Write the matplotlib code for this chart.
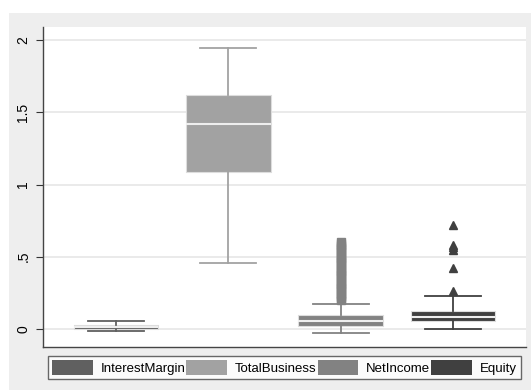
import matplotlib
matplotlib.use("Agg")
import matplotlib.pyplot as plt
from matplotlib.patches import Rectangle, Patch

plt.rcParams['font.family'] = ['Liberation Sans', 'DejaVu Sans']

names = ['InterestMargin', 'TotalBusiness', 'NetIncome', 'Equity']
colors = ['#606060', '#a2a2a2', '#828282', '#404040']
whislo = [-0.014, 0.457, -0.028, 0.0]
q1 = [0.002, 1.087, 0.02, 0.055]
med = [0.016, 1.42, 0.055, 0.085]
q3 = [0.030, 1.62, 0.097, 0.125]
whishi = [0.053, 1.945, 0.173, 0.23]
fliers = [
    [],
    [],
    [0.20, 0.215, 0.23, 0.245, 0.26, 0.275, 0.29, 0.305, 0.32, 0.335, 0.35,
     0.365, 0.38, 0.395, 0.41, 0.425, 0.44, 0.455, 0.47, 0.485, 0.50, 0.515,
     0.53, 0.545, 0.56, 0.575, 0.59, 0.605],
    [0.26, 0.42, 0.55, 0.565, 0.58, 0.72],
]
flier_markers = ['o', 'D', 's', '^']
yticks = [0, 0.5, 1, 1.5, 2]
ylabels = ['0', '.5', '1', '1.5', '2']

fig = plt.figure(figsize=(5.31, 3.90), dpi=100)
fig.patch.set_facecolor('white')
fig.add_artist(Rectangle((9 / 531, 0), 1, 1 - 13 / 390, transform=fig.transFigure,
                         facecolor='#eeeeee', edgecolor='none', zorder=0))

ax = fig.add_axes([43 / 531, 1 - 347 / 390, 483 / 531, 320 / 390])
ax.set_facecolor('white')

for i, n in enumerate(names):
    st = dict(label=n, whislo=whislo[i], q1=q1[i], med=med[i], q3=q3[i],
              whishi=whishi[i], fliers=fliers[i])
    c = colors[i]
    ax.bxp([st], positions=[i + 1], widths=0.756, patch_artist=True,
           boxprops=dict(facecolor=c, edgecolor='#dddddd', linewidth=0.8),
           medianprops=dict(color='#eeeeee', linewidth=1.5),
           whiskerprops=dict(color=c, linewidth=1.3),
           capprops=dict(color=c, linewidth=1.3),
           capwidths=0.5,
           flierprops=dict(marker=flier_markers[i], markerfacecolor=c,
                           markeredgecolor=c, markersize=5.5, linestyle='none'))

ax.set_xlim(0.35, 4.65)
ax.set_ylim(-0.1246, 2.09)
ax.set_xticks([])
ax.set_yticks(yticks)
ax.set_yticklabels(ylabels, rotation=90, va='center', fontsize=10)
ax.tick_params(axis='y', length=5, width=0.8, color='#333333', pad=4)
ax.grid(axis='y', color='#e6e6e6', linewidth=1.2)
ax.set_axisbelow(True)
for s in ['top', 'right']:
    ax.spines[s].set_visible(False)
for s in ['left', 'bottom']:
    ax.spines[s].set_color('#444444')
    ax.spines[s].set_linewidth(1.0)

handles = [Patch(facecolor=c, edgecolor='none') for c in colors]
leg = fig.legend(handles, names, loc='lower left',
                 bbox_to_anchor=(48 / 531, 1 - 379 / 390, 473 / 531, 23 / 390),
                 mode='expand', ncol=4, fontsize=9.5, frameon=True, fancybox=False,
                 handlelength=3.1, handleheight=1.3, handletextpad=0.6,
                 columnspacing=0.0, borderaxespad=0, borderpad=0.3)
leg.get_frame().set_edgecolor('#444444')
leg.get_frame().set_linewidth(1.0)

fig.savefig('out.png', dpi=100)
